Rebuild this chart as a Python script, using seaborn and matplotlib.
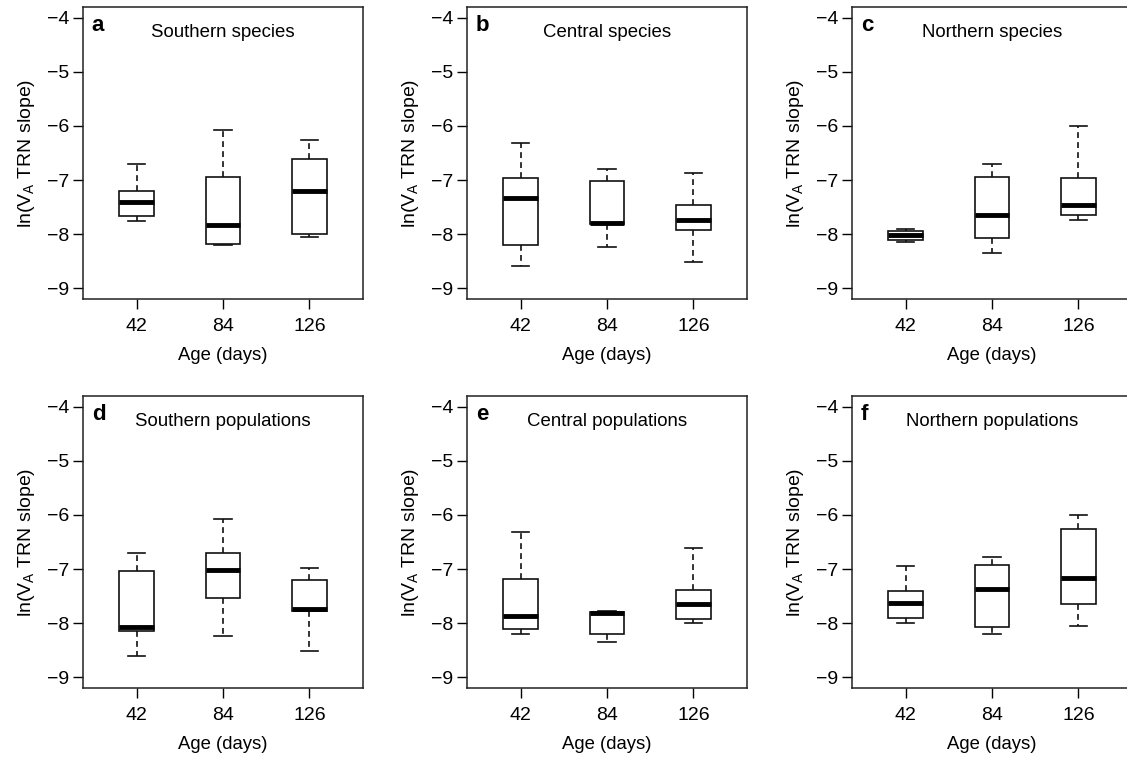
import numpy as np
import pandas as pd
import seaborn as sns
import matplotlib.pyplot as plt

# ---------------------------------------------------------------- data
ages = ["42", "84", "126"]
panel_letters = ["a", "b", "c", "d", "e", "f"]
panel_titles = ["Southern species", "Central species", "Northern species",
                "Southern populations", "Central populations", "Northern populations"]

# five-number summaries, one row per panel, one column per age (42, 84, 126)
whisker_low = [[-7.75, -8.20, -8.05],
               [-8.59, -8.23, -8.52],
               [-8.15, -8.35, -7.74],
               [-8.60, -8.23, -8.52],
               [-8.21, -8.35, -7.99],
               [-8.00, -8.21, -8.06]]
quart_low = [[-7.66, -8.19, -7.99],
             [-8.20, -7.81, -7.92],
             [-8.10, -8.07, -7.65],
             [-8.15, -7.53, -7.77],
             [-8.11, -8.20, -7.92],
             [-7.90, -8.07, -7.64]]
medians = [[-7.41, -7.83, -7.20],
           [-7.33, -7.79, -7.74],
           [-8.02, -7.65, -7.46],
           [-8.07, -7.02, -7.74],
           [-7.86, -7.82, -7.64],
           [-7.63, -7.36, -7.16]]
quart_high = [[-7.20, -6.94, -6.62],
              [-6.96, -7.02, -7.46],
              [-7.94, -6.94, -6.97],
              [-7.04, -6.70, -7.20],
              [-7.19, -7.80, -7.39],
              [-7.41, -6.93, -6.26]]
whisker_high = [[-6.71, -6.07, -6.26],
                [-6.31, -6.79, -6.87],
                [-7.91, -6.70, -6.00],
                [-6.71, -6.07, -6.98],
                [-6.31, -7.77, -6.62],
                [-6.95, -6.78, -6.00]]

# long table: 5 values per box give exactly these quartiles with whis=(0, 100)
rows = []
for p in range(6):
    for i, age in enumerate(ages):
        for v in [whisker_low[p][i], quart_low[p][i], medians[p][i],
                  quart_high[p][i], whisker_high[p][i]]:
            rows.append({"panel": p, "age": age, "value": v})
df = pd.DataFrame(rows)

# ---------------------------------------------------------------- figure
plt.rcParams["font.family"] = ["Liberation Sans", "DejaVu Sans"]
plt.rcParams["mathtext.fontset"] = "custom"
plt.rcParams["mathtext.rm"] = "Liberation Sans"
plt.rcParams["mathtext.it"] = "Liberation Sans:italic"

W, H = 1127, 757
fig = plt.figure(figsize=(W / 100, H / 100), dpi=100)

lefts = [83, 467, 852]
tops = [7, 396]
ax_w, ax_h = 280, 292

for p in range(6):
    r, c = divmod(p, 3)
    ax = fig.add_axes([lefts[c] / W, (H - tops[r] - ax_h) / H, ax_w / W, ax_h / H])
    sns.boxplot(data=df[df["panel"] == p], x="age", y="value", order=ages,
                whis=(0, 100), width=0.4, color="white", linecolor="#111111",
                linewidth=1.2, showfliers=False,
                whiskerprops={"linestyle": (0, (3.5, 2.5))},
                medianprops={"linewidth": 3.5, "color": "black"}, ax=ax)
    ax.set_xlim(-0.62, 2.62)
    ax.set_ylim(-9.2, -3.8)
    ax.set_yticks([-9, -8, -7, -6, -5, -4])
    ax.set_yticklabels(["\u22129", "\u22128", "\u22127", "\u22126", "\u22125", "\u22124"])
    ax.tick_params(direction="out", length=7, width=1, labelsize=14)
    ax.tick_params(axis="x", pad=7)
    ax.tick_params(axis="y", pad=3)
    for s in ax.spines.values():
        s.set_linewidth(1.1)
        s.set_color("#222222")
    ax.set_xlabel("Age (days)", fontsize=13.3, labelpad=8)
    ax.set_ylabel("ln(V$_\\mathrm{A}$ TRN slope)", fontsize=14, labelpad=7)
    ax.text(-0.52, -4.15, panel_letters[p], fontsize=16, fontweight="bold", va="center")
    ax.text(1.0, -4.27, panel_titles[p], fontsize=13.4, ha="center", va="center")

fig.savefig("out.png", dpi=100)
